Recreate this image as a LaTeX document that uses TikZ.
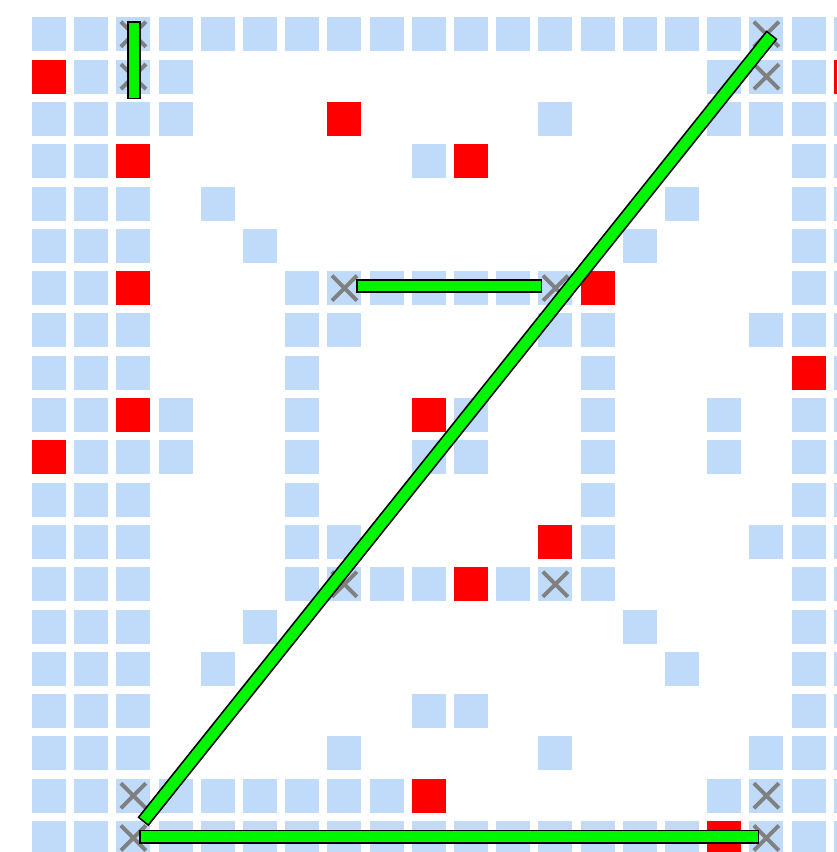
\documentclass[tikz,border=0pt]{standalone}
\usetikzlibrary{calc}
\definecolor{lb}{RGB}{191,219,249}
\definecolor{rd}{RGB}{255,0,0}
\definecolor{xg}{RGB}{128,128,128}
\definecolor{gr}{RGB}{0,245,0}
\tikzset{
  cellblue/.style={fill=lb},
  cellred/.style={fill=rd},
  xmark/.style={draw=xg, line width=3.9pt},
  barout/.style={draw=black, line width=14pt, shorten <=-1.6pt, shorten >=-1.6pt},
  barin/.style={draw=gr, line width=10.6pt}
}
\begin{document}
\begin{tikzpicture}[x=1pt,y=-1pt]
\useasboundingbox (0,0) rectangle (837,852);
\clip (0,0) rectangle (837,852);
\fill[white] (0,0) rectangle (837,852);
% blue cells
\foreach \r/\cols in {
  0/{0,1,2,3,4,5,6,7,8,9,10,11,12,13,14,15,16,17,18,19},
  1/{1,2,3,16,17,18},
  2/{0,1,2,3,12,16,17,18,19},
  3/{0,1,9,18,19},
  4/{0,1,2,4,15,18,19},
  5/{0,1,2,5,14,18,19},
  6/{0,1,6,7,8,9,10,11,12,18,19},
  7/{0,1,2,6,7,12,13,17,18,19},
  8/{0,1,2,6,13,19},
  9/{0,1,3,6,10,13,16,18,19},
  10/{1,2,3,6,9,10,13,16,18,19},
  11/{0,1,2,6,13,18,19},
  12/{0,1,2,6,7,13,17,18,19},
  13/{0,1,2,6,7,8,9,11,12,13,18,19},
  14/{0,1,2,5,14,18,19},
  15/{0,1,2,4,15,18,19},
  16/{0,1,2,9,10,18,19},
  17/{0,1,2,7,12,17,18,19},
  18/{0,1,2,3,4,5,6,7,8,16,17,18,19},
  19/{0,1,2,3,4,5,6,7,8,9,10,11,12,13,14,15,17,18,19}}{
  \foreach \c in \cols {
    \fill[cellblue] ({32+42.2*\c},{17.3+42.3*\r}) rectangle ++(34,34);
  }
}
% red cells
\foreach \r/\c in {1/0,1/19,2/7,3/2,3/10,6/2,6/13,8/18,9/2,9/9,10/0,12/12,13/10,18/9,19/16}{
  \fill[cellred] ({32+42.2*\c},{17.3+42.3*\r}) rectangle ++(34,34);
}
% X marks
\foreach \r/\c in {0/2,1/2,0/17,1/17,6/7,6/12,13/7,13/12,18/2,19/2,18/17,19/17}{
  \coordinate (X\r-\c) at ({49+42.2*\c},{34.3+42.3*\r});
  \draw[xmark] (X\r-\c) +(-12.5,-12.5) -- +(12.5,12.5) +(-12.5,12.5) -- +(12.5,-12.5);
}
% bars
\coordinate (v1) at (134,22.5);
\coordinate (v2) at (134,97.5);
\coordinate (h1) at (357.5,286);
\coordinate (h2) at (540.5,286);
\coordinate (d1) at (144,820.5);
\coordinate (d2) at (771,36);
\coordinate (b1) at (140.5,836.5);
\coordinate (b2) at (757.5,836.5);
\foreach \a/\b in {v1/v2,h1/h2,d1/d2,b1/b2}{
  \draw[barout] (\a) -- (\b);
  \draw[barin] (\a) -- (\b);
}
\end{tikzpicture}
\end{document}
